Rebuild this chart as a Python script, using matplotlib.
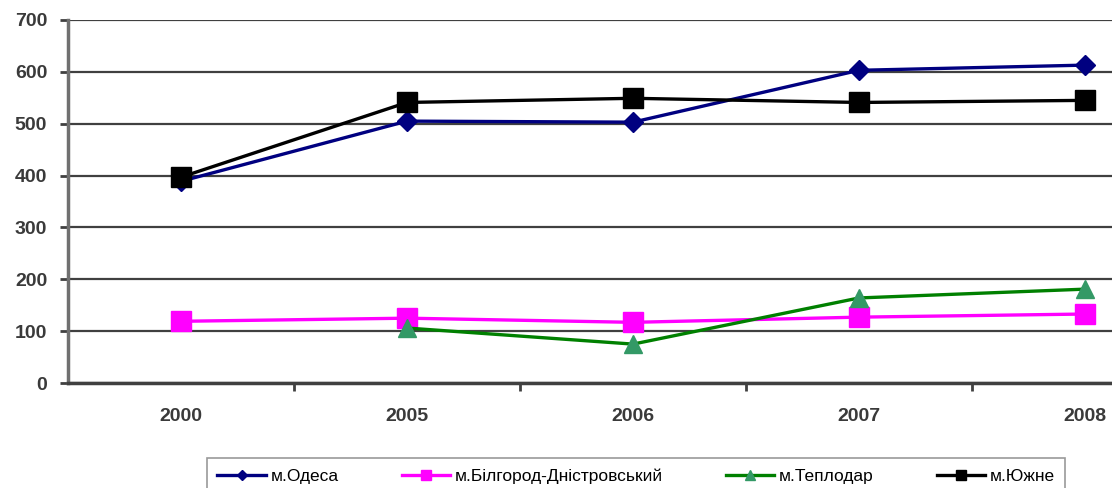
import matplotlib
matplotlib.use('Agg')
import matplotlib.pyplot as plt
import matplotlib.ticker as ticker
import numpy as np

plt.rcParams['font.family'] = ['Liberation Sans', 'DejaVu Sans']

years = ['2000', '2005', '2006', '2007', '2008']
odesa = [389, 505, 503, 603, 613]
bilhorod = [119, 125, 117, 127, 133]
teplodar = [np.nan, 106, 75, 164, 181]
yuzhne = [397, 541, 549, 541, 545]

x = np.arange(len(years))

fig = plt.figure(figsize=(11.12, 4.88), dpi=100)
ax = fig.add_axes([68/1112, 1-383/488, 1-68/1112, (383-20)/488])

ax.plot(x, odesa, color='#000080', lw=2.4, marker='D', ms=10,
        mfc='#000080', mec='#000080', label='м.Одеса', zorder=4)
ax.plot(x, bilhorod, color='#FF00FF', lw=2.4, marker='s', ms=15,
        mfc='#FF00FF', mec='#FF00FF', label='м.Білгород-Дністровський', zorder=3)
ax.plot(x, teplodar, color='#008000', lw=2.4, marker='^', ms=13,
        mfc='#339966', mec='#339966', label='м.Теплодар', zorder=4)
ax.plot(x, yuzhne, color='black', lw=2.4, marker='s', ms=14,
        mfc='black', mec='black', label='м.Южне', zorder=5)

ax.set_ylim(0, 700)
ax.set_xlim(-0.5, (1112-181)/226)
ax.yaxis.set_major_locator(ticker.MultipleLocator(100))
ax.set_xticks(x)
ax.set_xticklabels(years)
ax.xaxis.set_minor_locator(ticker.FixedLocator([0.5, 1.5, 2.5, 3.5]))
ax.tick_params(axis='x', which='major', length=0, pad=18)
ax.tick_params(axis='x', which='minor', length=6, width=2, color='#404040', direction='out')
ax.tick_params(axis='y', length=6, width=2, color='#404040', pad=9)
for lab in ax.get_xticklabels() + ax.get_yticklabels():
    lab.set_fontsize(14)
    lab.set_fontweight('bold')
    lab.set_color('#3a3a3a')

ax.grid(axis='y', color='#404040', lw=1.6)
ax.set_axisbelow(True)
for s in ['top', 'right']:
    ax.spines[s].set_visible(False)
ax.spines['left'].set_color('#707070')
ax.spines['left'].set_linewidth(2.5)
ax.spines['bottom'].set_color('#404040')
ax.spines['bottom'].set_linewidth(2.5)

# legend sits at the bottom, partly cut off like the original
leg = fig.legend(loc='upper left', bbox_to_anchor=(207/1112, 1-458/488, (1065-207)/1112, 0),
                 mode='expand', ncol=4, fontsize=12.5, frameon=True, fancybox=False,
                 handlelength=2.8, handletextpad=0.25, markerscale=0.5,
                 borderpad=0.6, borderaxespad=0)
leg.get_frame().set_edgecolor('#808080')
leg.get_frame().set_linewidth(1.2)

plt.savefig('out.png', dpi=100)
